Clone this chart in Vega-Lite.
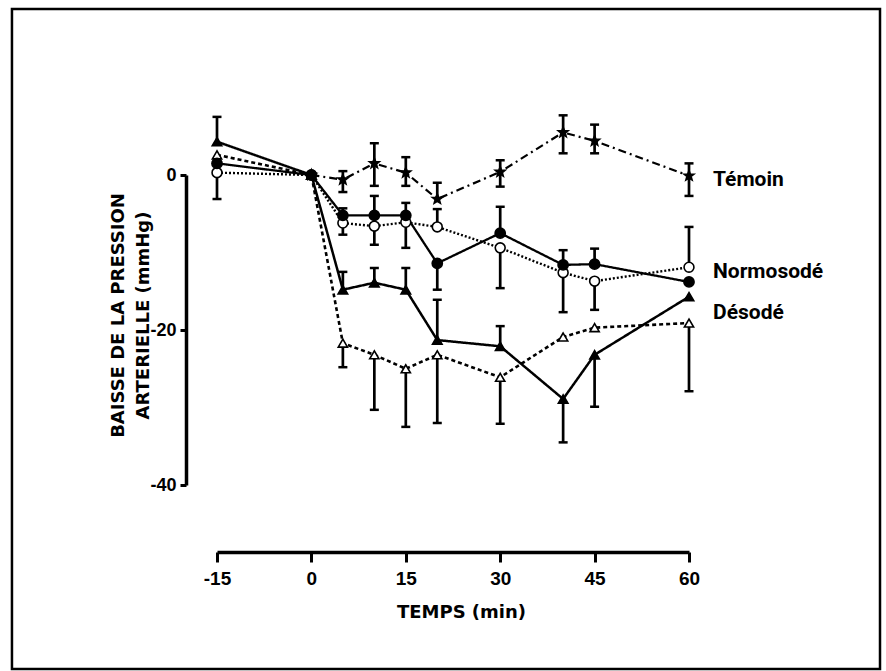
{
  "$schema": "https://vega.github.io/schema/vega-lite/v6.json",
  "width": 472,
  "height": 310,
  "autosize": {"type": "none"},
  "padding": {"left": 217, "top": 175, "right": 197, "bottom": 186},
  "background": "white",
  "config": {"view": {"stroke": null}},
  "datasets": {
    "pts": [
      {"s": "Normosodé ○", "t": -15, "v": 0.3, "lo": -3.1, "hi": 0.3},
      {"s": "Normosodé ○", "t": 0, "v": 0, "lo": 0, "hi": 0},
      {"s": "Normosodé ○", "t": 5, "v": -6.2, "lo": -7.7, "hi": -6.2},
      {"s": "Normosodé ○", "t": 10, "v": -6.6, "lo": -9.0, "hi": -6.6},
      {"s": "Normosodé ○", "t": 15, "v": -6.1, "lo": -9.4, "hi": -6.1},
      {"s": "Normosodé ○", "t": 20, "v": -6.7, "lo": -6.7, "hi": -4.4},
      {"s": "Normosodé ○", "t": 30, "v": -9.4, "lo": -14.6, "hi": -9.4},
      {"s": "Normosodé ○", "t": 40, "v": -12.6, "lo": -17.7, "hi": -12.6},
      {"s": "Normosodé ○", "t": 45, "v": -13.7, "lo": -17.4, "hi": -13.7},
      {"s": "Normosodé ○", "t": 60, "v": -11.9, "lo": -11.9, "hi": -6.7},
      {"s": "Désodé △", "t": -15, "v": 2.6, "lo": 2.6, "hi": 2.6},
      {"s": "Désodé △", "t": 0, "v": 0, "lo": 0, "hi": 0},
      {"s": "Désodé △", "t": 5, "v": -21.7, "lo": -24.8, "hi": -21.7},
      {"s": "Désodé △", "t": 10, "v": -23.2, "lo": -30.3, "hi": -23.2},
      {"s": "Désodé △", "t": 15, "v": -25.0, "lo": -32.5, "hi": -25.0},
      {"s": "Désodé △", "t": 20, "v": -23.2, "lo": -32.0, "hi": -23.2},
      {"s": "Désodé △", "t": 30, "v": -26.1, "lo": -32.1, "hi": -26.1},
      {"s": "Désodé △", "t": 40, "v": -20.9, "lo": -20.9, "hi": -20.9},
      {"s": "Désodé △", "t": 45, "v": -19.7, "lo": -19.7, "hi": -19.7},
      {"s": "Désodé △", "t": 60, "v": -19.1, "lo": -27.9, "hi": -19.1},
      {"s": "Normosodé ●", "t": -15, "v": 1.5, "lo": 1.5, "hi": 1.5},
      {"s": "Normosodé ●", "t": 0, "v": 0, "lo": 0, "hi": 0},
      {"s": "Normosodé ●", "t": 5, "v": -5.2, "lo": -5.2, "hi": -4.3},
      {"s": "Normosodé ●", "t": 10, "v": -5.2, "lo": -5.2, "hi": -2.7},
      {"s": "Normosodé ●", "t": 15, "v": -5.2, "lo": -5.2, "hi": -3.6},
      {"s": "Normosodé ●", "t": 20, "v": -11.4, "lo": -14.8, "hi": -11.4},
      {"s": "Normosodé ●", "t": 30, "v": -7.5, "lo": -7.5, "hi": -4.1},
      {"s": "Normosodé ●", "t": 40, "v": -11.6, "lo": -11.6, "hi": -9.7},
      {"s": "Normosodé ●", "t": 45, "v": -11.5, "lo": -11.5, "hi": -9.5},
      {"s": "Normosodé ●", "t": 60, "v": -13.8, "lo": -13.8, "hi": -13.8},
      {"s": "Désodé ▲", "t": -15, "v": 4.3, "lo": 4.3, "hi": 7.5},
      {"s": "Désodé ▲", "t": 0, "v": 0, "lo": 0, "hi": 0},
      {"s": "Désodé ▲", "t": 5, "v": -14.8, "lo": -14.8, "hi": -12.5},
      {"s": "Désodé ▲", "t": 10, "v": -13.9, "lo": -13.9, "hi": -12.0},
      {"s": "Désodé ▲", "t": 15, "v": -14.8, "lo": -14.8, "hi": -12.0},
      {"s": "Désodé ▲", "t": 20, "v": -21.3, "lo": -21.3, "hi": -16.1},
      {"s": "Désodé ▲", "t": 30, "v": -22.1, "lo": -22.1, "hi": -19.5},
      {"s": "Désodé ▲", "t": 40, "v": -28.9, "lo": -34.5, "hi": -28.9},
      {"s": "Désodé ▲", "t": 45, "v": -23.2, "lo": -29.9, "hi": -23.2},
      {"s": "Désodé ▲", "t": 60, "v": -15.7, "lo": -15.7, "hi": -15.7},
      {"s": "Témoin", "t": 0, "v": 0, "lo": 0, "hi": 0},
      {"s": "Témoin", "t": 5, "v": -0.6, "lo": -2.2, "hi": 0.5},
      {"s": "Témoin", "t": 10, "v": 1.5, "lo": -1.4, "hi": 4.1},
      {"s": "Témoin", "t": 15, "v": 0.3, "lo": -1.4, "hi": 2.3},
      {"s": "Témoin", "t": 20, "v": -3.1, "lo": -3.1, "hi": -1.0},
      {"s": "Témoin", "t": 30, "v": 0.4, "lo": -1.5, "hi": 1.9},
      {"s": "Témoin", "t": 40, "v": 5.5, "lo": 2.8, "hi": 7.7},
      {"s": "Témoin", "t": 45, "v": 4.4, "lo": 2.8, "hi": 6.5},
      {"s": "Témoin", "t": 60, "v": -0.1, "lo": -2.7, "hi": 1.5}
    ],
    "labels": [
      {"label": "Témoin", "t": 60, "v": -0.65},
      {"label": "Normosodé", "t": 60, "v": -12.5},
      {"label": "Désodé", "t": 60, "v": -17.8}
    ],
    "cadre": [{"frame": "cadre"}]
  },
  "layer": [
    {
      "data": {"name": "cadre"},
      "mark": {"type": "rect", "fill": "transparent", "stroke": "black", "strokeWidth": 2.5},
      "encoding": {
        "x": {"datum": -47.58, "type": "quantitative", "scale": {"domain": [-15, 60], "nice": false, "zero": false}},
        "x2": {"datum": 90.35},
        "y": {"datum": 21.42, "type": "quantitative", "scale": {"domain": [-40, 0], "nice": false, "zero": false}},
        "y2": {"datum": -63.74}
      }
    },
    {
      "data": {"name": "pts"},
      "encoding": {
        "x": {
          "field": "t", "type": "quantitative",
          "scale": {"domain": [-15, 60], "nice": false, "zero": false},
          "axis": {
            "values": [-15, 0, 15, 30, 45, 60],
            "offset": 67, "grid": false,
            "domainColor": "black", "domainWidth": 3.5,
            "tickColor": "black", "tickWidth": 3, "tickSize": 10,
            "labelFont": "Liberation Sans", "labelFontWeight": "bold", "labelFontSize": 19,
            "labelColor": "black", "labelPadding": 7, "labelFlush": false,
            "labelExpr": "replace(datum.label, '−', '-')",
            "title": "TEMPS  (min)",
            "titleFont": "DejaVu Sans", "titleFontWeight": "bold", "titleFontSize": 18, "titleColor": "black",
            "titleX": 244, "titleY": 60, "titleAlign": "center", "titleBaseline": "middle", "titleAnchor": null
          }
        },
        "y": {
          "field": "v", "type": "quantitative",
          "scale": {"domain": [-40, 0], "nice": false, "zero": false},
          "axis": {
            "values": [0, -20, -40],
            "offset": 31, "grid": false,
            "domainColor": "black", "domainWidth": 3.5,
            "tickColor": "black", "tickWidth": 3, "tickSize": 6,
            "labelFont": "Liberation Sans", "labelFontWeight": "bold", "labelFontSize": 18,
            "labelColor": "black", "labelPadding": 4, "labelFlush": false,
            "labelExpr": "replace(datum.label, '−', '-')",
            "title": ["BAISSE DE LA PRESSION", "ARTERIELLE  (mmHg)"],
            "titleFont": "DejaVu Sans", "titleFontWeight": "bold", "titleFontSize": 18, "titleColor": "black",
            "titleAngle": 270, "titleX": -68, "titleY": 140, "titleAlign": "center", "titleBaseline": "middle",
            "titleLineHeight": 25, "titleAnchor": null
          }
        }
      },
      "layer": [
        {
          "mark": {"type": "line", "color": "black"},
          "encoding": {
            "detail": {"field": "s", "type": "nominal"},
            "strokeDash": {
              "field": "s", "type": "nominal", "legend": null,
              "scale": {
                "domain": ["Témoin", "Normosodé ●", "Normosodé ○", "Désodé ▲", "Désodé △"],
                "range": [[8, 4, 2, 4], [1, 0], [2, 2], [1, 0], [4, 3]]
              }
            },
            "strokeWidth": {
              "field": "s", "type": "nominal", "legend": null,
              "scale": {
                "domain": ["Témoin", "Normosodé ●", "Normosodé ○", "Désodé ▲", "Désodé △"],
                "range": [2.2, 2.6, 2.8, 2.6, 1.8]
              }
            }
          }
        },
        {
          "transform": [{"filter": "datum.hi > datum.lo"}],
          "mark": {"type": "rule", "color": "black", "strokeWidth": 2.7},
          "encoding": {
            "y": {"field": "lo", "type": "quantitative"},
            "y2": {"field": "hi"}
          }
        },
        {
          "transform": [{"filter": "datum.hi > datum.v"}],
          "mark": {"type": "tick", "orient": "horizontal", "color": "black", "size": 9, "thickness": 2.5, "opacity": 1},
          "encoding": {"y": {"field": "hi", "type": "quantitative"}}
        },
        {
          "transform": [{"filter": "datum.lo < datum.v"}],
          "mark": {"type": "tick", "orient": "horizontal", "color": "black", "size": 9, "thickness": 2.5, "opacity": 1},
          "encoding": {"y": {"field": "lo", "type": "quantitative"}}
        },
        {
          "mark": {"type": "point", "filled": true, "stroke": "black", "strokeWidth": 1.6, "opacity": 1},
          "encoding": {
            "shape": {
              "field": "s", "type": "nominal", "legend": null,
              "scale": {
                "domain": ["Témoin", "Normosodé ●", "Normosodé ○", "Désodé ▲", "Désodé △"],
                "range": ["M0,-1L0.25,-0.35L0.95,-0.31L0.4,0.13L0.59,0.81L0,0.42L-0.59,0.81L-0.4,0.13L-0.95,-0.31L-0.25,-0.35Z", "circle", "circle", "triangle-up", "triangle-up"]
              }
            },
            "fill": {
              "field": "s", "type": "nominal", "legend": null,
              "scale": {
                "domain": ["Témoin", "Normosodé ●", "Normosodé ○", "Désodé ▲", "Désodé △"],
                "range": ["black", "black", "white", "black", "white"]
              }
            },
            "size": {
              "field": "s", "type": "nominal", "legend": null,
              "scale": {
                "domain": ["Témoin", "Normosodé ●", "Normosodé ○", "Désodé ▲", "Désodé △"],
                "range": [110, 85, 170, 70, 50]
              }
            }
          }
        },
        {
          "data": {"name": "labels"},
          "mark": {"type": "text", "align": "left", "baseline": "middle", "dx": 24, "font": "Roboto", "fontWeight": "bold", "fontSize": 21, "color": "black"},
          "encoding": {"text": {"field": "label", "type": "nominal"}}
        }
      ]
    }
  ]
}
